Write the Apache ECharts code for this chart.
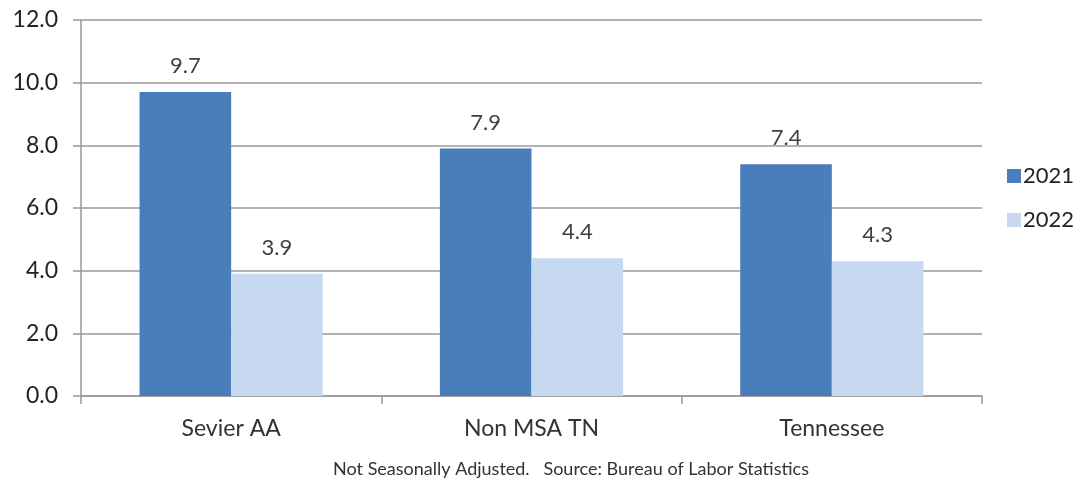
<!DOCTYPE html>
<html><head><meta charset="utf-8">
<script src="https://cdn.jsdelivr.net/npm/echarts@6/dist/echarts.min.js"></script>
<style>html,body{margin:0;padding:0;background:#fff}#c{width:1080px;height:482px}</style>
</head><body><div id="c"></div>
<script>
const categories = ['Sevier AA', 'Non MSA TN', 'Tennessee'];
const series2021 = [9.7, 7.9, 7.4];
const series2022 = [3.9, 4.4, 4.3];
const seriesNames = ['2021', '2022'];
const footer = 'Not Seasonally Adjusted.   Source: Bureau of Labor Statistics';

const chart = echarts.init(document.getElementById('c'));
const font = 'Lato, "Open Sans", sans-serif';
const labelStyle = {show: true, position: 'top', distance: 15, color: '#404040', fontSize: 22, fontFamily: font,
  formatter: p => p.value.toFixed(1)};
chart.setOption({
  animation: false,
  textStyle: {fontFamily: font},
  grid: {left: 81, right: 98, top: 20, bottom: 86, containLabel: false},
  legend: {
    orient: 'vertical', left: 1002, top: 160, itemWidth: 14, itemHeight: 14, itemGap: 22,
    icon: 'rect', textStyle: {fontSize: 22, color: '#222', fontFamily: font, padding: [0,0,0,-3]},
    data: seriesNames
  },
  title: {text: footer, left: 566, textAlign: 'center', top: 455,
    textStyle: {fontSize: 18, fontWeight: 'normal', color: '#333', fontFamily: font}},
  xAxis: {
    type: 'category', data: categories,
    axisLine: {lineStyle: {color: '#999', width: 1.5}},
    axisTick: {show: true, length: 8, lineStyle: {color: '#999', width: 1.5}},
    axisLabel: {fontSize: 23, color: '#333', margin: 21, fontFamily: font}
  },
  yAxis: {
    type: 'value', min: 0, max: 12, interval: 2,
    axisLine: {show: true, lineStyle: {color: '#999', width: 1.5}},
    axisTick: {show: true, length: 8, lineStyle: {color: '#999', width: 1.5}},
    axisLabel: {fontSize: 23, color: '#222', margin: 23, fontFamily: font, formatter: v => v.toFixed(1)},
    splitLine: {lineStyle: {color: '#999', width: 1.5}}
  },
  series: [
    {name: seriesNames[0], type: 'bar', data: series2021, barGap: '0%', barCategoryGap: '39%',
     itemStyle: {color: '#4a7ebb'}, label: labelStyle},
    {name: seriesNames[1], type: 'bar', data: series2022, barGap: '0%', barCategoryGap: '39%',
     itemStyle: {color: '#c6d9f0'}, label: labelStyle}
  ]
});
</script></body></html>
